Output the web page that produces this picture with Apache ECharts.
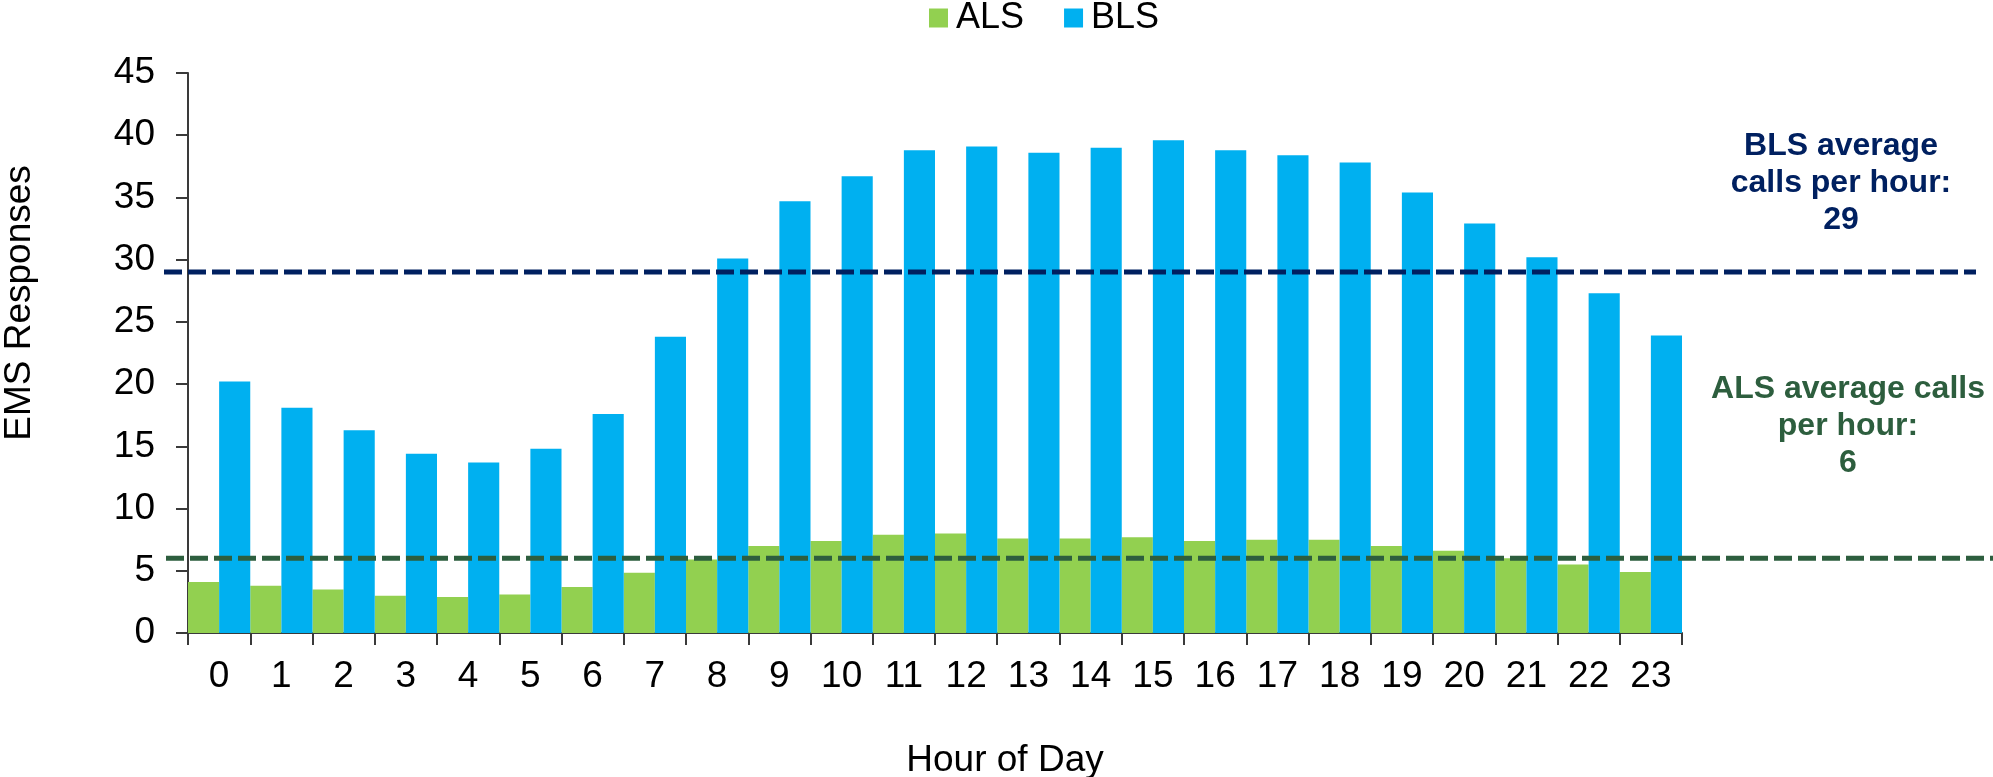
<!DOCTYPE html>
<html>
<head>
<meta charset="utf-8">
<title>EMS Responses by Hour of Day</title>
<script src="https://cdn.jsdelivr.net/npm/echarts@6/dist/echarts.min.js"></script>
<style>
  html, body { margin: 0; padding: 0; background: #ffffff; }
  #chart { width: 1993px; height: 777px; }
</style>
</head>
<body>
<div id="chart"></div>
<script>
// Hour-of-day categories
const hours = ['0','1','2','3','4','5','6','7','8','9','10','11','12','13','14','15','16','17','18','19','20','21','22','23'];

// Advanced Life Support responses per hour
const alsValues = [4.1, 3.8, 3.5, 3.0, 2.9, 3.1, 3.7, 4.85, 5.9, 7.0, 7.4, 7.9, 8.0, 7.6, 7.6, 7.7, 7.4, 7.5, 7.5, 7.0, 6.6, 6.0, 5.5, 4.9];

// Basic Life Support responses per hour
const blsValues = [20.2, 18.1, 16.3, 14.4, 13.7, 14.8, 17.6, 23.8, 30.1, 34.7, 36.7, 38.8, 39.1, 38.6, 39.0, 39.6, 38.8, 38.4, 37.8, 35.4, 32.9, 30.2, 27.3, 23.9];

// Average calls per hour shown as dashed reference lines
const blsAverage = 29;
const alsAverage = 6;

// Value axis range
const yMin = 0;
const yMax = 45;
const yStep = 5;

const FONT = "'Liberation Sans', Arial, sans-serif";
const GREEN = '#92D050';
const BLUE = '#00B0F0';
const NAVY = '#002060';
const DARK_GREEN = '#2D5E3E';
const AXIS = '#3a3a3a';

const chart = echarts.init(document.getElementById('chart'), null, { renderer: 'canvas' });

const gridTop = 73;
const gridBottom = 144;

// hidden value axes used by the wide average lines
const hiddenY = (idx) => ({
  type: 'value', gridIndex: idx, min: yMin, max: yMax, show: false
});
const hiddenX = (idx) => ({
  type: 'value', gridIndex: idx, min: 0, max: 1, show: false
});

chart.setOption({
  backgroundColor: '#ffffff',
  animation: false,
  textStyle: { fontFamily: FONT },
  legend: {
    data: ['ALS', 'BLS'],
    left: 929,
    top: 0,
    padding: 0,
    icon: 'rect',
    itemWidth: 19,
    itemHeight: 19,
    itemGap: 40,
    textStyle: {
      fontFamily: FONT,
      fontSize: 36,
      color: '#000000',
      lineHeight: 36,
      padding: [0, 0, 0, 3]
    }
  },
  grid: [
    { left: 188, right: 311, top: gridTop, bottom: gridBottom },
    { left: 164, right: 17, top: gridTop, bottom: gridBottom },
    { left: 166, right: 0, top: gridTop, bottom: gridBottom }
  ],
  xAxis: [
    {
      type: 'category',
      gridIndex: 0,
      data: hours,
      boundaryGap: true,
      axisLine: { show: true, lineStyle: { color: AXIS, width: 2 } },
      axisTick: { show: true, inside: false, length: 12, lineStyle: { color: AXIS, width: 2 } },
      axisLabel: { color: '#000000', fontSize: 37, fontFamily: FONT, margin: 25 },
      splitLine: { show: false }
    },
    hiddenX(1),
    hiddenX(2)
  ],
  yAxis: [
    {
      type: 'value',
      gridIndex: 0,
      min: yMin,
      max: yMax,
      interval: yStep,
      axisLine: { show: true, lineStyle: { color: AXIS, width: 2 } },
      axisTick: { show: true, inside: false, length: 12, lineStyle: { color: AXIS, width: 2 } },
      axisLabel: { color: '#000000', fontSize: 37, fontFamily: FONT, margin: 33 },
      splitLine: { show: false }
    },
    hiddenY(1),
    hiddenY(2)
  ],
  series: [
    {
      name: 'ALS',
      type: 'bar',
      xAxisIndex: 0,
      yAxisIndex: 0,
      data: alsValues,
      itemStyle: { color: GREEN },
      barGap: '0%',
      barCategoryGap: '0%',
      z: 2
    },
    {
      name: 'BLS',
      type: 'bar',
      xAxisIndex: 0,
      yAxisIndex: 0,
      data: blsValues,
      itemStyle: { color: BLUE },
      barGap: '0%',
      barCategoryGap: '0%',
      z: 2
    },
    {
      name: 'BLS average',
      type: 'line',
      xAxisIndex: 1,
      yAxisIndex: 1,
      data: [[0, blsAverage], [1, blsAverage]],
      symbol: 'none',
      silent: true,
      lineStyle: { color: NAVY, width: 5, type: [18, 6] },
      z: 5
    },
    {
      name: 'ALS average',
      type: 'line',
      xAxisIndex: 2,
      yAxisIndex: 2,
      data: [[0, alsAverage], [1, alsAverage]],
      symbol: 'none',
      silent: true,
      lineStyle: { color: DARK_GREEN, width: 5, type: [18, 6] },
      z: 5
    }
  ],
  graphic: [
    {
      type: 'text',
      x: 20,
      y: 303,
      rotation: Math.PI / 2,
      style: {
        text: 'EMS Responses',
        fontFamily: FONT,
        fontSize: 37,
        fill: '#000000',
        textAlign: 'center',
        textVerticalAlign: 'middle'
      }
    },
    {
      type: 'text',
      x: 1005,
      y: 761,
      style: {
        text: 'Hour of Day',
        fontFamily: FONT,
        fontSize: 37,
        fill: '#000000',
        textAlign: 'center',
        textVerticalAlign: 'middle'
      }
    },
    {
      type: 'text',
      x: 1841,
      y: 128,
      style: {
        text: 'BLS average\ncalls per hour:\n' + blsAverage,
        fontFamily: FONT,
        fontSize: 32,
        fontWeight: 'bold',
        lineHeight: 37,
        fill: NAVY,
        textAlign: 'center',
        textVerticalAlign: 'top'
      }
    },
    {
      type: 'text',
      x: 1848,
      y: 371,
      style: {
        text: 'ALS average calls\nper hour:\n' + alsAverage,
        fontFamily: FONT,
        fontSize: 32,
        fontWeight: 'bold',
        lineHeight: 37,
        fill: DARK_GREEN,
        textAlign: 'center',
        textVerticalAlign: 'top'
      }
    }
  ]
});
</script>
</body>
</html>
